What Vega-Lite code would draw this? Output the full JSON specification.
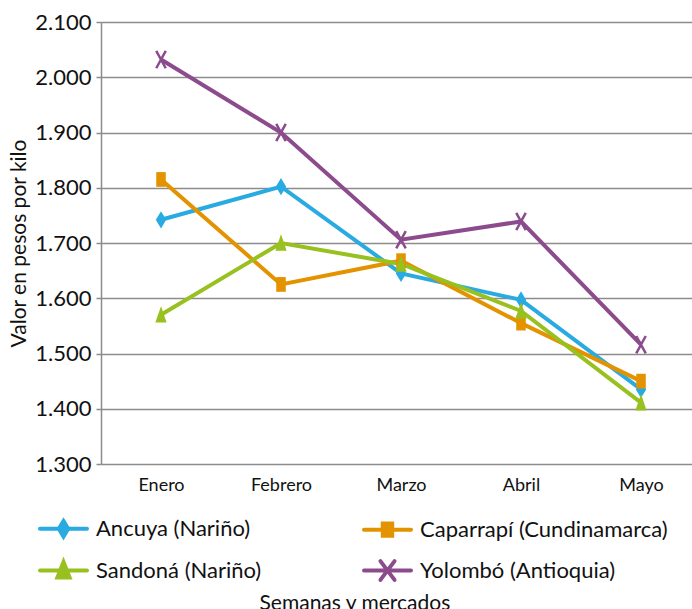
{
  "$schema": "https://vega.github.io/schema/vega-lite/v6.json",
  "width": 600,
  "height": 442,
  "autosize": {"type": "none"},
  "padding": {"left": 101, "top": 22, "right": 0, "bottom": 145},
  "background": "white",
  "title": {"text": "Semanas y mercados", "orient": "bottom", "anchor": "middle", "frame": "bounds", "fontSize": 21, "fontWeight": "normal", "font": "Lato", "color": "#111", "offset": 5},
  "data": {"values": [
    {"mes": "Enero", "serie": "Ancuya (Nariño)", "valor": 1742},
    {"mes": "Febrero", "serie": "Ancuya (Nariño)", "valor": 1802},
    {"mes": "Marzo", "serie": "Ancuya (Nariño)", "valor": 1645},
    {"mes": "Abril", "serie": "Ancuya (Nariño)", "valor": 1597},
    {"mes": "Mayo", "serie": "Ancuya (Nariño)", "valor": 1435},
    {"mes": "Enero", "serie": "Caparrapí (Cundinamarca)", "valor": 1815},
    {"mes": "Febrero", "serie": "Caparrapí (Cundinamarca)", "valor": 1625},
    {"mes": "Marzo", "serie": "Caparrapí (Cundinamarca)", "valor": 1668},
    {"mes": "Abril", "serie": "Caparrapí (Cundinamarca)", "valor": 1555},
    {"mes": "Mayo", "serie": "Caparrapí (Cundinamarca)", "valor": 1450},
    {"mes": "Enero", "serie": "Sandoná (Nariño)", "valor": 1570},
    {"mes": "Febrero", "serie": "Sandoná (Nariño)", "valor": 1700},
    {"mes": "Marzo", "serie": "Sandoná (Nariño)", "valor": 1662},
    {"mes": "Abril", "serie": "Sandoná (Nariño)", "valor": 1577},
    {"mes": "Mayo", "serie": "Sandoná (Nariño)", "valor": 1411},
    {"mes": "Enero", "serie": "Yolombó (Antioquia)", "valor": 2032},
    {"mes": "Febrero", "serie": "Yolombó (Antioquia)", "valor": 1900},
    {"mes": "Marzo", "serie": "Yolombó (Antioquia)", "valor": 1706},
    {"mes": "Abril", "serie": "Yolombó (Antioquia)", "valor": 1739},
    {"mes": "Mayo", "serie": "Yolombó (Antioquia)", "valor": 1516}
  ]},
  "encoding": {
    "x": {"field": "mes", "type": "ordinal", "sort": ["Enero", "Febrero", "Marzo", "Abril", "Mayo"],
      "scale": {"type": "point", "padding": 0.5},
      "axis": {"title": null, "labelAngle": 0, "ticks": false, "domain": false, "grid": false, "labelPadding": 12, "labelFontSize": 18, "labelFont": "Lato", "labelColor": "#111"}},
    "y": {"field": "valor", "type": "quantitative",
      "scale": {"domain": [1300, 2100], "nice": false, "zero": false},
      "axis": {"title": "Valor en pesos por kilo", "values": [1300, 1400, 1500, 1600, 1700, 1800, 1900, 2000, 2100],
        "labelExpr": "replace(format(datum.value, ','), ',', '.')",
        "labelFontSize": 22, "labelFont": "Lato", "labelColor": "#111", "labelPadding": 5,
        "tickSize": 5, "tickColor": "#8c8c8c", "tickWidth": 1.5,
        "domainColor": "#8c8c8c", "domainWidth": 1.5,
        "gridColor": "#8c8c8c", "gridWidth": 1.5,
        "titleFontSize": 21, "titleFont": "Lato", "titleFontWeight": "normal", "titleColor": "#111", "titlePadding": 5}},
    "color": {"field": "serie", "type": "nominal",
      "scale": {"domain": ["Ancuya (Nariño)", "Caparrapí (Cundinamarca)", "Sandoná (Nariño)", "Yolombó (Antioquia)"],
                "range": ["#29abe2", "#e39300", "#98c01f", "#8b4b8d"]},
      "legend": {
        "title": null, "orient": "none", "legendX": -63, "legendY": 481, "columns": 2, "direction": "horizontal",
        "columnPadding": 94, "rowPadding": -6, "padding": 0,
        "symbolSize": 2209, "symbolStrokeWidth": 4, "labelOffset": 7,
        "labelFontSize": 22, "labelFont": "Lato", "labelColor": "#111", "labelLimit": 400,
        "encode": {"symbols": {"update": {
          "shape": {"signal": "datum.value === 'Ancuya (Nariño)' ? 'M-1,0L1,0M0,-0.33L0.2,0L0,0.33L-0.2,0Z' : datum.value === 'Caparrapí (Cundinamarca)' ? 'M-1,0L1,0M-0.2,-0.26L0.2,-0.26L0.2,0.26L-0.2,0.26Z' : datum.value === 'Sandoná (Nariño)' ? 'M-1,0L1,0M0,-0.36L0.26,0.3L-0.26,0.3Z' : 'M-1,0L1,0M-0.3,-0.4L0.3,0.4M-0.3,0.4L0.3,-0.4'"},
          "fill": {"signal": "scale('color', datum.value)"},
          "stroke": {"signal": "scale('color', datum.value)"},
          "strokeWidth": {"value": 4},
          "strokeCap": {"value": "round"},
          "opacity": {"value": 1}
        }}}
      }}
  },
  "layer": [
    {"mark": {"type": "line", "strokeWidth": 4}},
    {"transform": [{"filter": "datum.serie === 'Ancuya (Nariño)'"}],
     "mark": {"type": "point", "filled": true, "size": 300, "opacity": 1, "shape": "M0,-1L0.6,0L0,1L-0.6,0Z"}},
    {"transform": [{"filter": "datum.serie === 'Caparrapí (Cundinamarca)'"}],
     "mark": {"type": "point", "filled": true, "size": 300, "opacity": 1, "shape": "M-0.55,-0.85L0.55,-0.85L0.55,0.85L-0.55,0.85Z"}},
    {"transform": [{"filter": "datum.serie === 'Sandoná (Nariño)'"}],
     "mark": {"type": "point", "filled": true, "size": 300, "opacity": 1, "shape": "M0,-1L0.65,0.9L-0.65,0.9Z"}},
    {"transform": [{"filter": "datum.serie === 'Yolombó (Antioquia)'"}],
     "mark": {"type": "point", "filled": false, "size": 300, "opacity": 1, "strokeWidth": 2.5, "shape": "M-0.55,-1L0.55,1M-0.55,1L0.55,-1"}}
  ],
  "config": {
    "view": {"stroke": null},
    "font": "Lato"
  }
}
